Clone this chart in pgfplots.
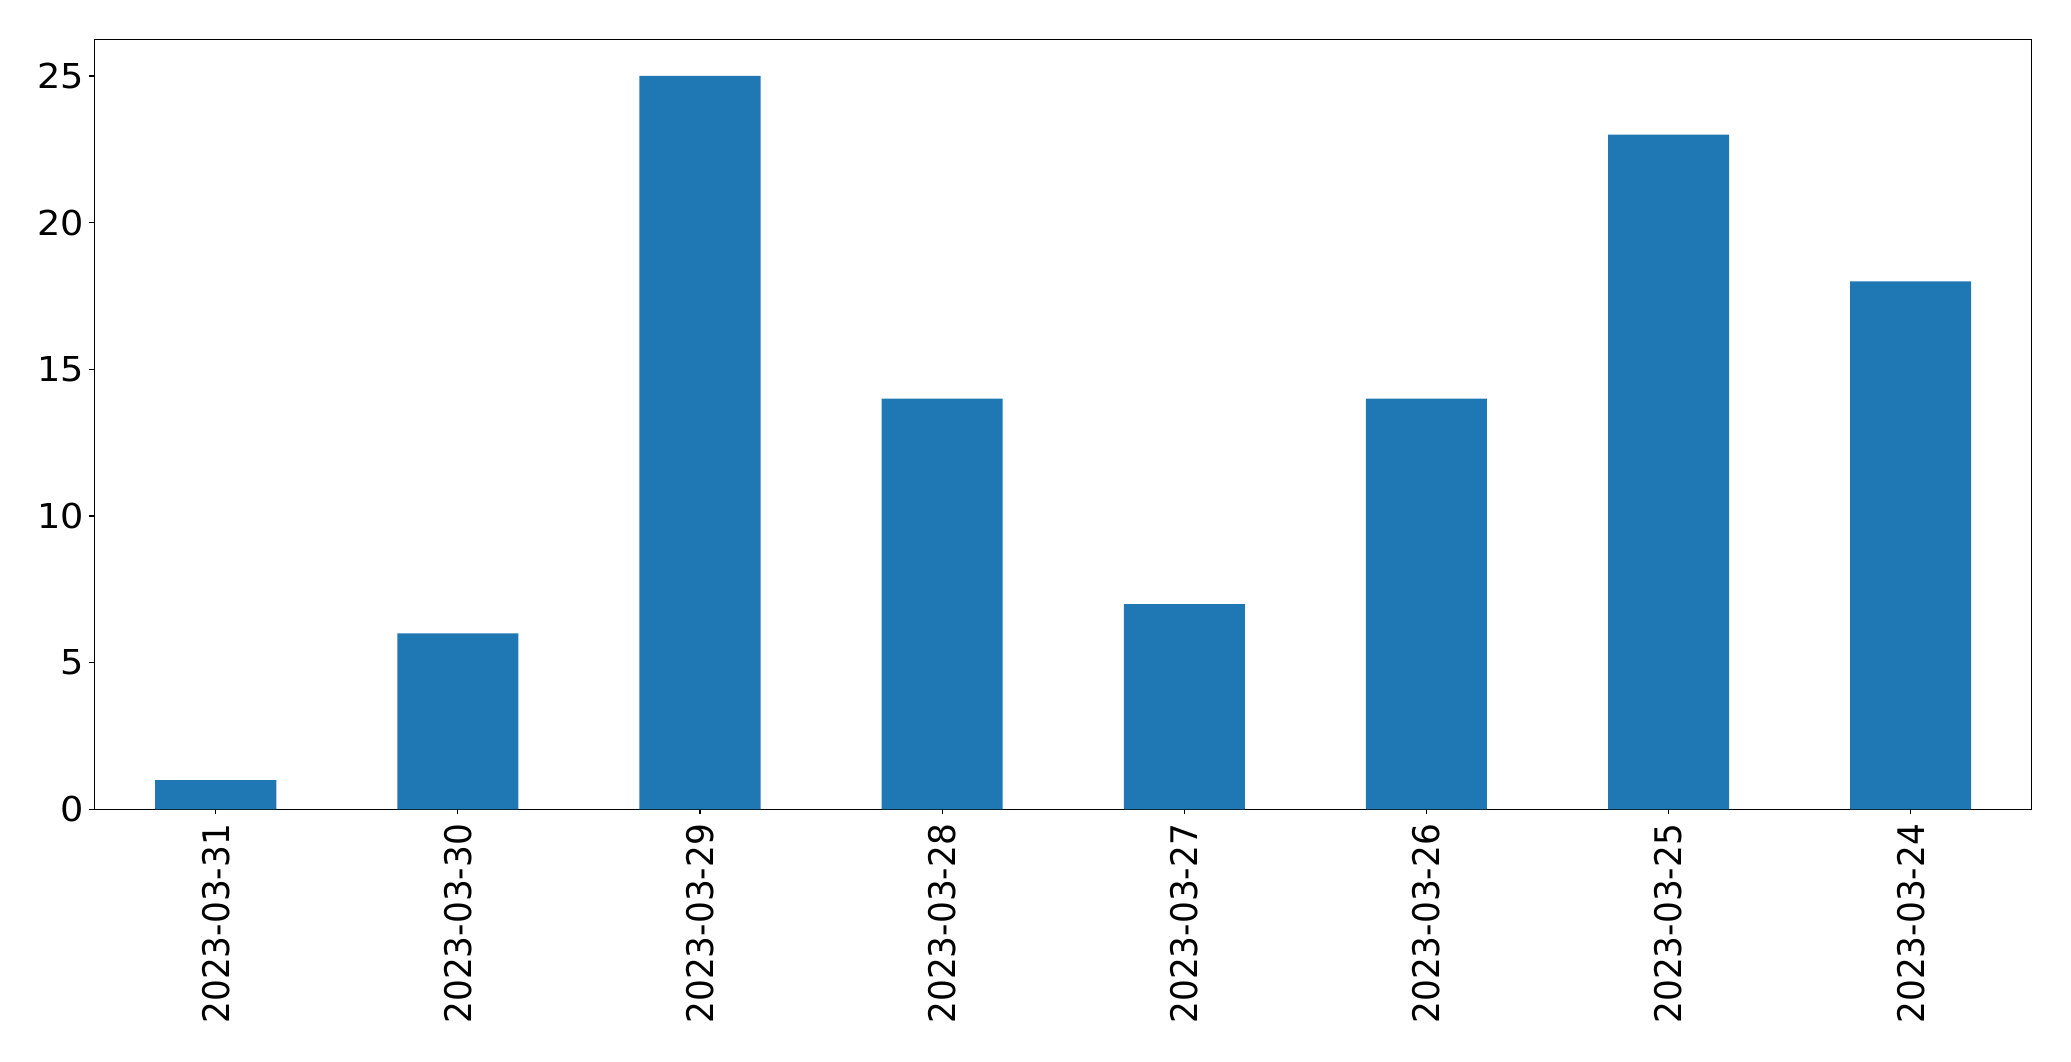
\documentclass[border=0pt]{standalone}
\usepackage{graphicx}
\usepackage{pgfplots}
\pgfplotsset{compat=1.18}
\usepackage{fontspec}
\setmainfont{DejaVu Sans}
\definecolor{barblue}{HTML}{1F77B4}
\begin{document}
\scalebox{1.067}[1.0]{%
\begin{tikzpicture}
\begin{axis}[
  scale only axis,
  width=1307.1pt, height=554.4pt,
  xmin=-0.5, xmax=7.5,
  ymin=0, ymax=26.25,
  axis line style={line width=0.8pt},
  xtick={0,1,2,3,4,5,6,7},
  xticklabels={2023-03-31,2023-03-30,2023-03-29,2023-03-28,2023-03-27,2023-03-26,2023-03-25,2023-03-24},
  ytick={0,5,10,15,20,25},
  tick align=outside,
  tick pos=left,
  major tick length=3.6pt,
  every tick/.style={black, line width=0.8pt},
  /pgf/number format/assume math mode=true,
  ticklabel style={font=\fontsize{24.7}{29.6}\selectfont, inner sep=0pt},
  xticklabel style={rotate=90, anchor=east},
  xticklabel shift=6.8pt,
  yticklabel shift=3.6pt,
]
\addplot[ybar, bar width=0.5, fill=barblue, draw=none] coordinates {
  (0,1) (1,6) (2,25) (3,14) (4,7) (5,14) (6,23) (7,18)
};
\end{axis}
\path ([shift={(-63.9pt,-181.2pt)}]current axis.south west) rectangle ([shift={(26.5pt,28.3pt)}]current axis.north east);
\end{tikzpicture}}
\end{document}
